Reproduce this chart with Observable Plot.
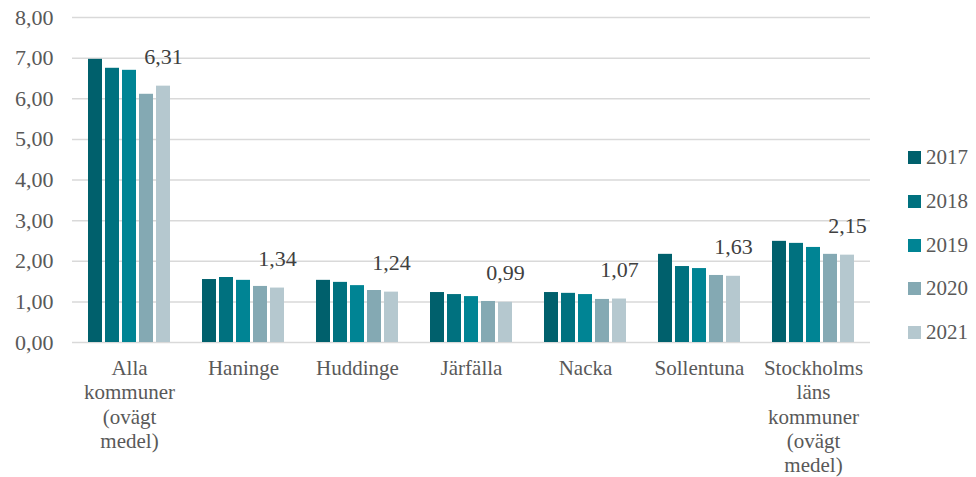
<!DOCTYPE html>
<html>
<head>
<meta charset="utf-8">
<script src="https://cdn.jsdelivr.net/npm/d3@7"></script>
<script src="https://cdn.jsdelivr.net/npm/@observablehq/plot@0.6"></script>
<style>
  body { margin: 0; background: #fff; }
  #wrap { position: relative; width: 976px; height: 477px; font-family: "Liberation Serif", serif; }
  #legend { position: absolute; left: 908px; top: 136px; }
  .row { display: flex; align-items: center; height: 43.7px; font-size: 21px; color: #595959; font-family: "Liberation Serif", serif; }
  .sw { width: 13px; height: 13px; margin-right: 5px; }
</style>
</head>
<body>
<div id="wrap"><div id="legend"></div></div>
<script>
const categories = ["Alla kommuner (ovägt medel)", "Haninge", "Huddinge", "Järfälla", "Nacka", "Sollentuna", "Stockholms läns kommuner (ovägt medel)"];
const categoryLabels = ["Alla\nkommuner\n(ovägt\nmedel)", "Haninge", "Huddinge", "Järfälla", "Nacka", "Sollentuna", "Stockholms\nläns\nkommuner\n(ovägt\nmedel)"];
const years = ["2017", "2018", "2019", "2020", "2021"];
const v2017 = [6.97, 1.55, 1.53, 1.23, 1.23, 2.17, 2.49];
const v2018 = [6.75, 1.60, 1.48, 1.18, 1.21, 1.87, 2.44];
const v2019 = [6.70, 1.53, 1.40, 1.13, 1.18, 1.82, 2.34];
const v2020 = [6.11, 1.38, 1.28, 1.01, 1.06, 1.65, 2.17];
const v2021 = [6.31, 1.34, 1.24, 0.99, 1.07, 1.63, 2.15];
const yTicks = [0, 1, 2, 3, 4, 5, 6, 7, 8];
const colors = ["#00606C", "#00717F", "#008494", "#84A9B3", "#B5C8CF"];

const series = [v2017, v2018, v2019, v2020, v2021];
const data = [];
categories.forEach((c, i) => years.forEach((y, j) => data.push({category: c, year: y, value: series[j][i]})));
const labelData = data.filter(d => d.year === "2021");
const fmt = d => d.toFixed(2).replace(".", ",");
const FF = "Liberation Serif";

const chart = Plot.plot({
  width: 976,
  height: 477,
  marginLeft: 72,
  marginRight: 106,
  marginTop: 17,
  marginBottom: 135,
  style: {fontFamily: FF, background: "#fff"},
  fx: {domain: categories, paddingInner: 0, paddingOuter: 0, axis: null, label: null},
  x: {domain: years, paddingInner: 0.2, paddingOuter: 0.846, axis: null, label: null},
  y: {domain: [0, 8], axis: null, label: null},
  color: {domain: years, range: colors},
  marks: [
    Plot.ruleY(yTicks, {stroke: "#d9d9d9", strokeWidth: 1.5}),
    Plot.barY(data, {fx: "category", x: "year", y: "value", fill: "year"}),
    Plot.text(labelData, {fx: "category", x: "year", y: "value", text: d => fmt(d.value), dy: -29, fontSize: 22, fontFamily: FF, fill: "#404040"}),
    Plot.text(categories, {fx: d => d, frameAnchor: "bottom", text: d => categoryLabels[categories.indexOf(d)], lineAnchor: "top", dy: 15, lineHeight: 1.16, fontSize: 21, fontFamily: FF, fill: "#595959"}),
    Plot.axisY({ticks: yTicks, tickFormat: fmt, tickSize: 0, tickPadding: 19, fontSize: 22, fontFamily: FF, color: "#595959", label: null})
  ]
});
document.getElementById("wrap").prepend(chart);

const legend = document.getElementById("legend");
years.forEach((y, i) => {
  const row = document.createElement("div");
  row.className = "row";
  const sw = document.createElement("div");
  sw.className = "sw";
  sw.style.background = colors[i];
  const t = document.createElement("span");
  t.textContent = y;
  row.appendChild(sw);
  row.appendChild(t);
  legend.appendChild(row);
});
</script>
</body>
</html>
